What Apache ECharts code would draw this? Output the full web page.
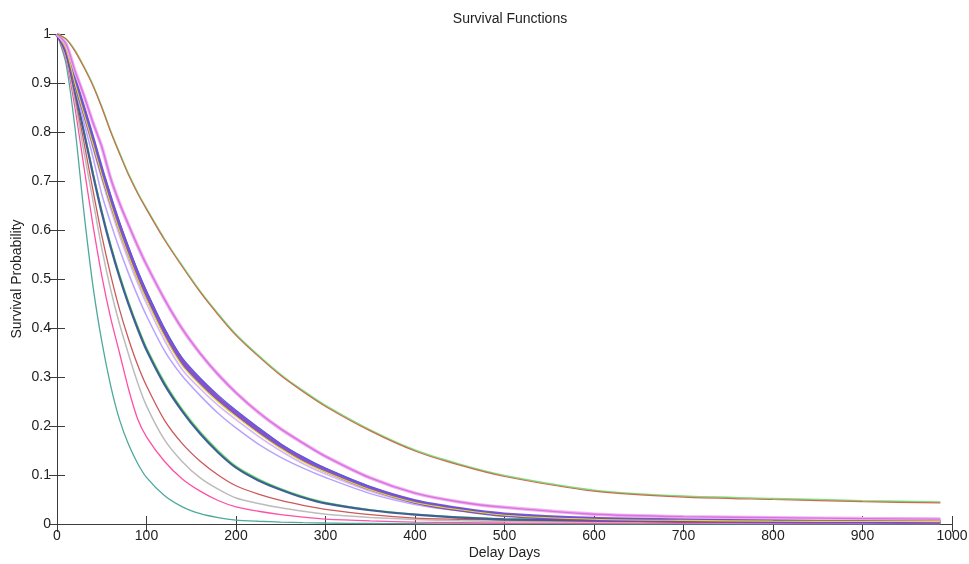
<!DOCTYPE html>
<html>
<head>
<meta charset="utf-8">
<script src="https://cdn.jsdelivr.net/npm/echarts@6/dist/echarts.min.js"></script>
<style>
  html, body { margin: 0; padding: 0; background: #fff; }
  #chart { width: 969px; height: 564px; }
</style>
</head>
<body>
<div id="chart"></div>
<script>
// Delay in days at which each survival estimate is sampled
const days = [0, 10, 20, 30, 40, 50, 60, 70, 80, 90, 100, 120, 140, 160, 180, 200, 225, 250, 275, 300, 350, 400, 450, 500, 600, 700, 800, 900, 987];

// Survival probability per group
const sTeal     = [1, 0.94, 0.81, 0.638, 0.488, 0.373, 0.282, 0.212, 0.162, 0.124, 0.095, 0.058, 0.035, 0.021, 0.013, 0.008, 0.0056, 0.004, 0.0028, 0.002, 0.001, 0.0005, 0.0003, 0.0002, 0, 0, 0, 0, 0];
const sPink     = [1, 0.95, 0.85, 0.73, 0.612, 0.507, 0.42, 0.348, 0.275, 0.215, 0.178, 0.128, 0.092, 0.067, 0.048, 0.035, 0.026, 0.019, 0.014, 0.01, 0.0063, 0.004, 0.0028, 0.002, 0.0015, 0.0012, 0.001, 0.001, 0.001];
const sGray     = [1, 0.955, 0.865, 0.76, 0.662, 0.563, 0.478, 0.407, 0.346, 0.289, 0.241, 0.172, 0.127, 0.094, 0.071, 0.053, 0.042, 0.033, 0.026, 0.02, 0.0135, 0.009, 0.0067, 0.005, 0.0035, 0.003, 0.0025, 0.0022, 0.002];
const sRed      = [1, 0.96, 0.875, 0.78, 0.683, 0.589, 0.508, 0.437, 0.377, 0.325, 0.282, 0.212, 0.164, 0.128, 0.1, 0.078, 0.061, 0.048, 0.038, 0.03, 0.019, 0.012, 0.0097, 0.008, 0.0055, 0.004, 0.0035, 0.0032, 0.003];
const sNavy     = [1, 0.962, 0.885, 0.8, 0.715, 0.635, 0.565, 0.503, 0.448, 0.399, 0.355, 0.285, 0.23, 0.184, 0.146, 0.115, 0.089, 0.07, 0.054, 0.042, 0.028, 0.019, 0.013, 0.0095, 0.0072, 0.006, 0.0055, 0.005, 0.005];
const sGreen    = [1, 0.963, 0.887, 0.803, 0.719, 0.64, 0.57, 0.508, 0.453, 0.404, 0.36, 0.29, 0.234, 0.188, 0.15, 0.118, 0.092, 0.072, 0.056, 0.044, 0.029, 0.02, 0.014, 0.0105, 0.008, 0.0065, 0.006, 0.0055, 0.0055];
const sLavender = [1, 0.967, 0.893, 0.82, 0.75, 0.673, 0.614, 0.56, 0.511, 0.466, 0.425, 0.354, 0.302, 0.262, 0.226, 0.196, 0.163, 0.136, 0.114, 0.095, 0.062, 0.04, 0.027, 0.019, 0.0115, 0.0088, 0.0075, 0.0065, 0.006];
const sLilac    = [1, 0.968, 0.895, 0.832, 0.768, 0.704, 0.643, 0.588, 0.538, 0.492, 0.45, 0.375, 0.315, 0.276, 0.242, 0.213, 0.179, 0.149, 0.123, 0.102, 0.067, 0.042, 0.028, 0.017, 0.0095, 0.007, 0.0055, 0.005, 0.0045];
const sYellow   = [1, 0.97, 0.9, 0.838, 0.776, 0.712, 0.652, 0.597, 0.547, 0.5, 0.458, 0.383, 0.323, 0.283, 0.249, 0.219, 0.185, 0.154, 0.127, 0.106, 0.07, 0.044, 0.029, 0.018, 0.0098, 0.0073, 0.0058, 0.0052, 0.0048];
const sPurple   = [1, 0.972, 0.905, 0.845, 0.784, 0.72, 0.661, 0.606, 0.556, 0.509, 0.467, 0.392, 0.331, 0.291, 0.256, 0.226, 0.191, 0.159, 0.132, 0.11, 0.073, 0.046, 0.03, 0.019, 0.0102, 0.0078, 0.006, 0.0055, 0.005];
const sViolet   = [1, 0.974, 0.91, 0.852, 0.792, 0.728, 0.67, 0.615, 0.565, 0.518, 0.476, 0.4, 0.339, 0.298, 0.263, 0.232, 0.197, 0.164, 0.137, 0.114, 0.076, 0.048, 0.032, 0.02, 0.011, 0.0083, 0.0065, 0.006, 0.0055];
const sMagenta  = [1, 0.98, 0.925, 0.875, 0.82, 0.77, 0.705, 0.654, 0.61, 0.568, 0.529, 0.459, 0.398, 0.348, 0.305, 0.268, 0.228, 0.194, 0.165, 0.138, 0.094, 0.063, 0.045, 0.034, 0.02, 0.015, 0.013, 0.011, 0.01];
const sTopRed   = [1, 0.99, 0.965, 0.932, 0.895, 0.85, 0.8, 0.755, 0.712, 0.675, 0.642, 0.58, 0.525, 0.473, 0.427, 0.385, 0.342, 0.303, 0.27, 0.24, 0.19, 0.149, 0.12, 0.097, 0.067, 0.055, 0.05, 0.0455, 0.043];
const sTopGreen = [1, 0.99, 0.967, 0.934, 0.897, 0.852, 0.802, 0.757, 0.714, 0.677, 0.644, 0.582, 0.527, 0.475, 0.429, 0.387, 0.344, 0.305, 0.272, 0.242, 0.192, 0.151, 0.122, 0.099, 0.069, 0.057, 0.052, 0.0475, 0.045];

// Axis ticks
const xTicks = [0, 100, 200, 300, 400, 500, 600, 700, 800, 900, 1000];
const yTicks = [0, 0.1, 0.2, 0.3, 0.4, 0.5, 0.6, 0.7, 0.8, 0.9, 1];

const FONT = 'Liberation Sans';
const AXIS_COLOR = '#3c3c3c';

function pairs(vals) { return days.map((d, i) => [d, vals[i]]); }

function curve(vals, color, width, opacity) {
  return {
    type: 'line',
    data: pairs(vals),
    showSymbol: false,
    smooth: 0.25,
    silent: true,
    lineStyle: { color: color, width: width, opacity: opacity == null ? 1 : opacity },
    z: 2
  };
}

const axisCommon = {
  axisLine: { show: true, lineStyle: { color: AXIS_COLOR, width: 1 } },
  axisTick: { show: true, inside: true, length: 8, lineStyle: { color: AXIS_COLOR, width: 1 } },
  splitLine: { show: false }
};

const chart = echarts.init(document.getElementById('chart'), null, { renderer: 'canvas' });

chart.setOption({
  animation: false,
  backgroundColor: '#ffffff',
  title: {
    text: 'Survival Functions',
    left: 505, top: 7, textAlign: 'center',
    textStyle: { fontFamily: FONT, fontSize: 14, fontWeight: 'normal', color: '#222' }
  },
  grid: { left: 57, right: 17, top: 34, bottom: 40, containLabel: false, outerBoundsMode: 'none' },
  xAxis: [
    Object.assign({
      type: 'value', min: xTicks[0], max: xTicks[xTicks.length - 1], interval: 100,
      position: 'bottom',
      name: 'Delay Days', nameLocation: 'middle', nameGap: 22, nameMoveOverlap: false,
      nameTextStyle: { fontFamily: FONT, fontSize: 14, color: '#222' },
      axisLabel: { fontFamily: FONT, fontSize: 14, color: '#222', margin: 5, formatter: v => String(v) }
    }, axisCommon),
    Object.assign({
      type: 'value', min: xTicks[0], max: xTicks[xTicks.length - 1], interval: 100,
      position: 'top', axisLabel: { show: false }
    }, axisCommon)
  ],
  yAxis: [
    Object.assign({
      type: 'value', min: yTicks[0], max: yTicks[yTicks.length - 1], interval: 0.1,
      position: 'left',
      name: 'Survival Probability', nameLocation: 'middle', nameGap: 33, nameRotate: 90, nameMoveOverlap: false,
      nameTextStyle: { fontFamily: FONT, fontSize: 14, color: '#222' },
      axisLabel: {
        fontFamily: FONT, fontSize: 14, color: '#222', margin: 6,
        formatter: v => String(Math.round(v * 10) / 10)
      }
    }, axisCommon),
    Object.assign({
      type: 'value', min: yTicks[0], max: yTicks[yTicks.length - 1], interval: 0.1,
      position: 'right', axisLabel: { show: false }
    }, axisCommon)
  ],
  series: [
    curve(sTeal, '#4ea99c', 1.3),
    curve(sPink, '#ff4fa7', 1.3),
    curve(sGray, '#bcbcbc', 1.5),
    curve(sRed, '#cc5959', 1.3),
    curve(sGreen, '#6ee06a', 1.6),
    curve(sNavy, '#3f5f96', 2.2),
    curve(sLavender, '#b8a2ff', 1.5),
    curve(sLilac, '#d8b6ff', 1.6),
    curve(sPurple, '#7c3fc4', 4.5, 0.9),
    curve(sViolet, '#5a5ae0', 1.2),
    curve(sYellow, '#dede1a', 1.1),
    curve(sMagenta, '#f2b0ef', 3.5),
    curve(sMagenta, '#d673e3', 1.4),
    curve(sTopGreen, '#78e07a', 1.6),
    curve(sTopRed, '#cf6a52', 1.2)
  ]
});
</script>
</body>
</html>
